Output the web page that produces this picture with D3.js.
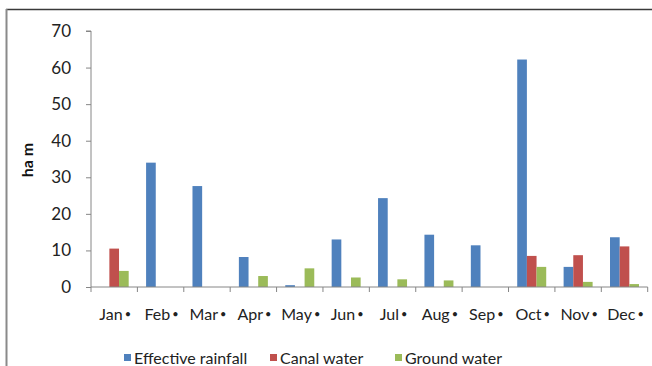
<!DOCTYPE html>
<html>
<head>
<meta charset="utf-8">
<script src="https://cdn.jsdelivr.net/npm/d3@7"></script>
<style>
  html, body { margin: 0; padding: 0; background: #ffffff; }
  svg { display: block; font-family: Lato, "Open Sans", sans-serif; }
</style>
</head>
<body>
<svg id="chart" width="652" height="366"></svg>
<script>
// Monthly water supply by source (ha m)
const months = ["Jan", "Feb", "Mar", "Apr", "May", "Jun", "Jul", "Aug", "Sep", "Oct", "Nov", "Dec"];
const seriesNames = ["Effective rainfall", "Canal water", "Ground water"];
const effectiveRainfall = [0, 34.0, 27.6, 8.2, 0.5, 13.0, 24.3, 14.3, 11.4, 62.2, 5.5, 13.6];
const canalWater        = [10.5, 0, 0, 0, 0, 0, 0, 0, 0, 8.5, 8.7, 11.1];
const groundWater       = [4.4, 0, 0, 3.0, 5.1, 2.6, 2.1, 1.8, 0, 5.5, 1.4, 0.8];
const yTicks = [0, 10, 20, 30, 40, 50, 60, 70];
const colors = ["#4F81BD", "#C0504D", "#9BBB59"];

const seriesValues = [effectiveRainfall, canalWater, groundWater];
const rows = months.map((m, i) => ({
  month: m,
  values: seriesNames.map((s, k) => ({ series: s, value: seriesValues[k][i], k }))
}));

const svg = d3.select("#chart");
const axisColor = "#868686";

// outer frame edges
svg.append("line").attr("x1", 6).attr("x2", 652).attr("y1", 9.5).attr("y2", 9.5)
  .attr("stroke", "#3a3a3a").attr("stroke-width", 1.6);
svg.append("line").attr("x1", 6.5).attr("x2", 6.5).attr("y1", 9).attr("y2", 366)
  .attr("stroke", "#8a8a8a").attr("stroke-width", 2);

const x = d3.scaleBand().domain(months).range([91, 647.7]).paddingInner(0).paddingOuter(0);
const xs = d3.scaleBand().domain(seriesNames).range([0, x.bandwidth()]).paddingInner(0).paddingOuter(0.9);
const y = d3.scaleLinear().domain([0, 70]).range([287, 31]);

// bars
const groups = svg.append("g").selectAll("g").data(rows).join("g")
  .attr("transform", d => `translate(${x(d.month)},0)`);
groups.selectAll("rect").data(d => d.values.filter(v => v.value > 0)).join("rect")
  .attr("x", d => xs(d.series))
  .attr("width", xs.bandwidth())
  .attr("y", d => y(d.value))
  .attr("height", d => y(0) - y(d.value))
  .attr("fill", d => colors[d.k]);

// y axis
const yAxis = svg.append("g").attr("transform", "translate(91,0)")
  .call(d3.axisLeft(y).tickValues(yTicks).tickSize(5).tickPadding(15).tickFormat(d3.format("d")));
yAxis.select(".domain").attr("stroke", axisColor).attr("d", `M-5,${y(70)}H0V${y(0)}`);
yAxis.selectAll(".tick line").attr("stroke", axisColor);
yAxis.selectAll(".tick text").attr("fill", "#222").attr("font-size", 17).attr("font-family", "Lato, sans-serif");

// x axis baseline and category boundary ticks
const xg = svg.append("g");
xg.append("line").attr("x1", 91).attr("x2", x.range()[1]).attr("y1", y(0)).attr("y2", y(0))
  .attr("stroke", axisColor).attr("stroke-width", 1);
const bounds = months.map(m => x(m)).concat([x.range()[1]]);
xg.selectAll("line.tk").data(bounds).join("line").attr("class", "tk")
  .attr("x1", d => d).attr("x2", d => d).attr("y1", y(0)).attr("y2", y(0) + 5)
  .attr("stroke", axisColor);
const xl = xg.selectAll("text").data(months).join("text")
  .attr("x", d => x(d) + x.bandwidth() / 2 + 1)
  .attr("y", 320)
  .attr("text-anchor", "middle")
  .attr("font-size", 16)
  .attr("fill", "#222");
xl.append("tspan").text(d => d);
xl.append("tspan").attr("font-size", 11).attr("dx", 2).attr("dy", -2).text("•");

// y axis title
svg.append("text")
  .attr("transform", "translate(33,160) rotate(-90)")
  .attr("text-anchor", "middle")
  .attr("font-size", 16)
  .attr("font-weight", "bold")
  .attr("fill", "#111")
  .text("ha m");

// legend
const legendX = [124, 270, 395];
const lg = svg.append("g").selectAll("g").data(seriesNames).join("g")
  .attr("transform", (d, i) => `translate(${legendX[i]},354)`);
lg.append("rect").attr("width", 7).attr("height", 7).attr("fill", (d, i) => colors[i]);
lg.append("text").attr("x", 10).attr("y", 9.5).attr("font-size", 16).attr("fill", "#222").text(d => d);
</script>
</body>
</html>
